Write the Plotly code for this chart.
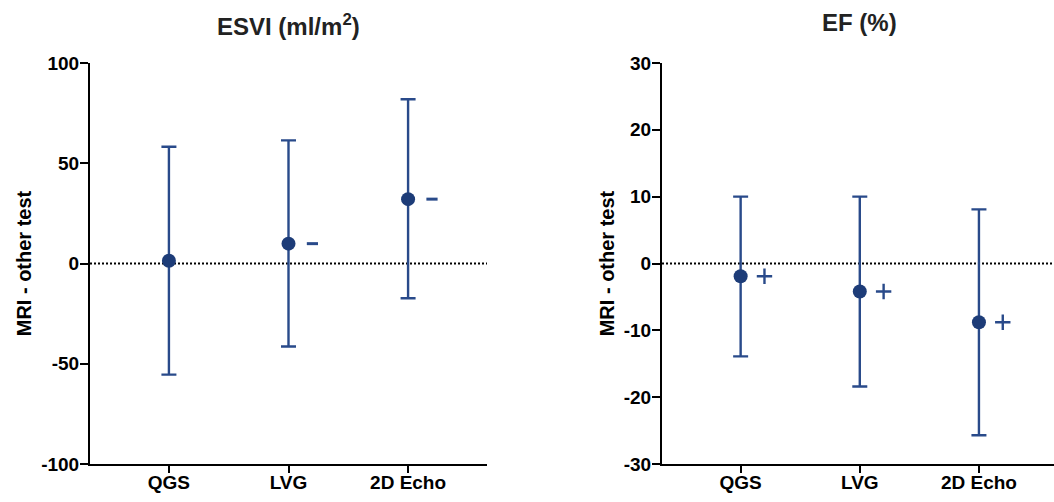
import plotly.graph_objects as go

# Bland-Altman style summary: mean difference (MRI - other test) with limits
categories = ["QGS", "LVG", "2D Echo"]

esvi_mean = [1.4, 9.9, 32.1]
esvi_upper = [58.2, 61.4, 81.9]
esvi_lower = [-55.4, -41.4, -17.3]
esvi_flags = ["", "-", "-"]

ef_mean = [-1.9, -4.2, -8.8]
ef_upper = [10.0, 10.0, 8.1]
ef_lower = [-13.9, -18.4, -25.7]
ef_flags = ["+", "+", "+"]

esvi_ticks = [-100, -50, 0, 50, 100]
ef_ticks = [-30, -20, -10, 0, 10, 20, 30]

BLUE = "#1d3c78"
BAR = "#294a8a"
FONT = "Liberation Sans, Arial, sans-serif"

W, H = 1054, 502
top_px, bot_px = 63, 464
ydom = [1 - bot_px / H, 1 - top_px / H]

fig = go.Figure()


def add_panel(xa, ya, mean, upper, lower, flags):
    xs = list(range(len(categories)))
    fig.add_trace(go.Scatter(
        x=xs, y=mean, mode="markers",
        marker=dict(color=BLUE, size=14),
        error_y=dict(type="data", symmetric=False,
                     array=[u - m for u, m in zip(upper, mean)],
                     arrayminus=[m - l for m, l in zip(mean, lower)],
                     color=BAR, thickness=2.4, width=7.5),
        xaxis=xa, yaxis=ya, showlegend=False, cliponaxis=False,
    ))
    # significance symbols beside each mean
    for i, (m, f) in enumerate(zip(mean, flags)):
        if not f:
            continue
        sym = "line-ew" if f == "-" else "cross-thin"
        fig.add_trace(go.Scatter(
            x=[i + 0.2], y=[m], mode="markers",
            marker=dict(symbol=sym, size=8 if f == "-" else 11,
                        line=dict(color=BAR, width=3 if f == "-" else 2.4)),
            xaxis=xa, yaxis=ya, showlegend=False, cliponaxis=False,
        ))


add_panel("x", "y", esvi_mean, esvi_upper, esvi_lower, esvi_flags)
add_panel("x2", "y2", ef_mean, ef_upper, ef_lower, ef_flags)

axis_common = dict(
    showgrid=False, zeroline=False, showline=True, linecolor="black",
    linewidth=2, ticks="outside", tickcolor="black", tickwidth=2,
    automargin=False,
    tickfont=dict(family=FONT, size=19, color="black", weight="bold"),
)

ytitle = dict(text="MRI - other test", standoff=4,
              font=dict(family=FONT, size=20, color="black", weight="bold"))

xt = dict(tickvals=list(range(len(categories))), ticktext=categories, ticklen=7,
          ticklabelstandoff=-7)

fig.update_layout(
    template="none",
    width=W, height=H,
    margin=dict(l=0, r=0, t=0, b=0),
    paper_bgcolor="white", plot_bgcolor="white",
    xaxis=dict(domain=[90 / W, 487 / W], range=[-0.66, 2.66], anchor="y",
               **xt, **axis_common),
    yaxis=dict(domain=ydom, range=[-100, 100], tickvals=esvi_ticks,
               ticktext=[str(v) for v in esvi_ticks], ticklen=8,
               ticklabelstandoff=-3, anchor="x", title=ytitle, **axis_common),
    xaxis2=dict(domain=[662 / W, 1.0], range=[-0.66, 2.63], anchor="y2",
                **xt, **axis_common),
    yaxis2=dict(domain=ydom, range=[-30, 30], tickvals=ef_ticks,
                ticktext=[str(v) for v in ef_ticks], ticklen=8,
                ticklabelstandoff=-3, anchor="x2", title=ytitle, **axis_common),
)

# dotted zero reference lines
for xr, yr in (("x domain", "y"), ("x2 domain", "y2")):
    fig.add_shape(type="line", xref=xr, yref=yr, x0=0, x1=1, y0=0, y1=0,
                  line=dict(color="black", width=2, dash="2px,2px"), layer="below")

# panel titles centred over the middle category
title_font = dict(family=FONT, size=24, color="#222222", weight="bold")
fig.add_annotation(text="ESVI (ml/m<sup>2</sup>)", xref="x", yref="paper",
                   x=1, y=1 - 25 / H, yanchor="middle", showarrow=False,
                   font=title_font)
fig.add_annotation(text="EF (%)", xref="x2", yref="paper",
                   x=1, y=1 - 23 / H, yanchor="middle", showarrow=False,
                   font=title_font)

fig.write_html("out.html")
